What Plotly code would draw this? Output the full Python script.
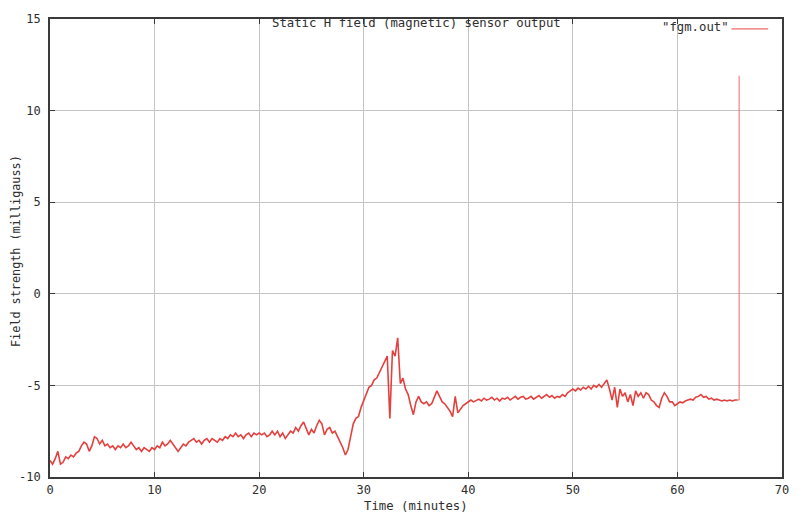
import plotly.graph_objects as go

# Sampling interval of the trace (minutes) and the read-off sensor values
sample_step = 0.25
field = [
    -9.1, -9.3, -9.0, -8.6, -9.3, -9.2, -8.9, -9.0,
    -8.8, -8.9, -8.7, -8.6, -8.3, -8.1, -8.2, -8.6,
    -8.3, -7.8, -7.9, -8.2, -8.0, -8.3, -8.2, -8.4,
    -8.3, -8.5, -8.3, -8.4, -8.2, -8.4, -8.3, -8.1,
    -8.3, -8.5, -8.4, -8.6, -8.4, -8.5, -8.6, -8.4,
    -8.5, -8.3, -8.4, -8.1, -8.3, -8.2, -8.0, -8.2,
    -8.4, -8.6, -8.4, -8.2, -8.3, -8.1, -8.0, -7.9,
    -8.1, -8.0, -8.2, -8.0, -7.9, -8.1, -7.9, -8.0,
    -8.1, -7.9, -8.0, -7.8, -7.9, -7.7, -7.8, -7.6,
    -7.8, -7.7, -7.9, -7.7, -7.6, -7.8, -7.6, -7.7,
    -7.6, -7.7, -7.6, -7.8, -7.7, -7.5, -7.7, -7.5,
    -7.8, -7.6, -7.9, -7.7, -7.5, -7.6, -7.3, -7.5,
    -7.2, -7.0, -7.4, -7.7, -7.4, -7.6, -7.2, -6.9,
    -7.1, -7.7, -7.4, -7.3, -7.6, -7.5, -7.8, -8.1,
    -8.4, -8.8, -8.5, -7.8, -7.1, -6.8, -6.7, -6.2,
    -5.8, -5.5, -5.1, -5.0, -4.7, -4.6, -4.3, -4.0,
    -3.7, -3.4, -6.8, -3.1, -3.4, -2.4, -4.9, -4.6,
    -5.2, -5.5, -6.1, -6.6, -5.9, -5.6, -5.9, -6.0,
    -5.9, -6.1, -6.0, -5.6, -5.3, -5.6, -5.9, -6.0,
    -6.2, -6.4, -6.7, -5.6, -6.5, -6.3, -6.1, -6.0,
    -5.9, -5.8, -5.9, -5.8, -5.75, -5.85, -5.7, -5.8,
    -5.75, -5.65, -5.8, -5.7, -5.85, -5.7, -5.75, -5.65,
    -5.8, -5.7, -5.6, -5.75, -5.65, -5.6, -5.75, -5.7,
    -5.6, -5.75, -5.65, -5.55, -5.7, -5.6, -5.5, -5.65,
    -5.55, -5.7, -5.6, -5.65, -5.5, -5.6, -5.4, -5.3,
    -5.2, -5.3, -5.15, -5.25, -5.1, -5.2, -5.05, -5.2,
    -5.0, -5.1, -4.95, -5.1, -4.9, -4.7, -5.2, -5.8,
    -5.1, -6.2, -5.2, -5.6, -5.4, -5.9, -5.5, -6.1,
    -5.3, -5.6, -5.4, -5.7, -5.4, -5.5, -5.8, -5.9,
    -6.1, -6.2, -5.7, -5.4, -5.6, -5.9, -5.9, -6.1,
    -6.0, -5.9, -5.95, -5.85, -5.8, -5.75, -5.8, -5.65,
    -5.6, -5.5, -5.65, -5.6, -5.75, -5.7, -5.8, -5.75,
    -5.8, -5.85, -5.8, -5.85, -5.8, -5.85, -5.8, -5.8,
]
# final jump at the end of the record
spike_time = [65.75, 65.9, 65.9]
spike_field = [-5.8, -5.8, 11.9]

time = [i * sample_step for i in range(len(field))]

x_ticks = [0, 10, 20, 30, 40, 50, 60, 70]
y_ticks = [-10, -5, 0, 5, 10, 15]

title_text = "Static H field (magnetic) sensor output"
legend_text = '"fgm.out"'
x_title = "Time (minutes)"
y_title = "Field strength (milligauss)"

FONT = "DejaVu Sans Mono"
TXT = "#2e2e2e"
RED = "#e5403d"

fig = go.Figure()
fig.add_trace(go.Scatter(x=time, y=field, mode="lines",
                         line=dict(color=RED, width=1.6),
                         name=legend_text, showlegend=False))
fig.add_trace(go.Scatter(x=spike_time, y=spike_field, mode="lines",
                         line=dict(color="#ee6a66", width=1),
                         name=legend_text, showlegend=False))

axis_common = dict(
    showline=True, linecolor="#3a3a3a", linewidth=1.6, mirror="ticks",
    ticks="inside", ticklen=5, tickcolor="#3a3a3a", tickwidth=1,
    showgrid=True, gridcolor="#c4c4c4", gridwidth=1, zeroline=False,
    tickfont=dict(family=FONT, size=12, color=TXT),
)

fig.update_layout(
    width=801, height=518,
    margin=dict(l=50, r=12, t=13, b=41),
    paper_bgcolor="white", plot_bgcolor="white",
    xaxis=dict(range=[0, 70], tickvals=x_ticks, ticktext=[str(v) for v in x_ticks],
               ticklabelstandoff=1, **axis_common),
    yaxis=dict(range=[-10, 15], tickvals=y_ticks, ticktext=[str(v) for v in y_ticks],
               ticklabelstandoff=5, **axis_common),
    annotations=[
        dict(text=title_text, xref="paper", yref="paper", x=0.5, y=1,
             xanchor="center", yanchor="middle", yshift=-4, showarrow=False,
             font=dict(family=FONT, size=12.3, color=TXT)),
        dict(text=legend_text, xref="paper", yref="paper", x=(732 - 50) / 739, y=1,
             xanchor="right", yanchor="middle", yshift=-8, xshift=5, showarrow=False,
             font=dict(family=FONT, size=12.3, color=TXT)),
        dict(text=x_title, xref="paper", yref="paper", x=0.5, y=0,
             xanchor="center", yanchor="middle", yshift=-29, showarrow=False,
             font=dict(family=FONT, size=12.3, color=TXT)),
        dict(text=y_title, xref="paper", yref="paper", x=0, y=0.5,
             xanchor="center", yanchor="middle", xshift=-34, yshift=-3,
             textangle=-90, showarrow=False,
             font=dict(family=FONT, size=11.8, color=TXT)),
    ],
    shapes=[
        dict(type="line", xref="paper", yref="paper",
             x0=(738 - 50) / 739, x1=(775 - 50) / 739,
             y0=1 - (23 - 13) / 464, y1=1 - (23 - 13) / 464,
             line=dict(color="#ee6a66", width=1.2)),
    ],
)

fig.write_html("out.html")
